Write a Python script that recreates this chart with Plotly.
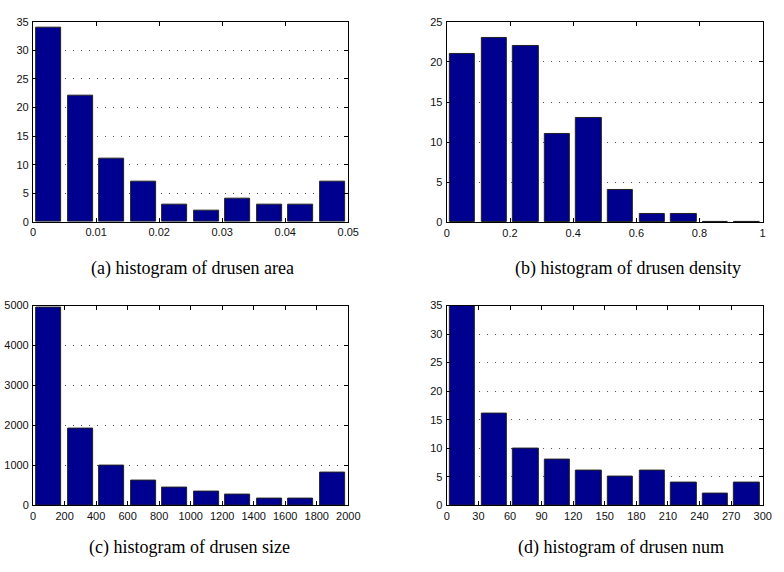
import plotly.graph_objects as go

# ---- data ----
area_centers = [0.0025, 0.0075, 0.0125, 0.0175, 0.0225, 0.0275, 0.0325, 0.0375, 0.0425, 0.0475]
area_counts = [34, 22, 11, 7, 3, 2, 4, 3, 3, 7]
area_ticks = [0, 0.01, 0.02, 0.03, 0.04, 0.05]
area_ticklabels = ["0", "0.01", "0.02", "0.03", "0.04", "0.05"]

density_centers = [0.05, 0.15, 0.25, 0.35, 0.45, 0.55, 0.65, 0.75, 0.85, 0.95]
density_counts = [21, 23, 22, 11, 13, 4, 1, 1, 0, 0]
density_ticks = [0, 0.2, 0.4, 0.6, 0.8, 1]
density_ticklabels = ["0", "0.2", "0.4", "0.6", "0.8", "1"]

size_centers = [100, 300, 500, 700, 900, 1100, 1300, 1500, 1700, 1900]
size_counts = [4940, 1910, 1000, 625, 455, 340, 260, 178, 170, 825]
size_ticks = [0, 200, 400, 600, 800, 1000, 1200, 1400, 1600, 1800, 2000]

num_centers = [15, 45, 75, 105, 135, 165, 195, 225, 255, 285]
num_counts = [35, 16, 10, 8, 6, 5, 6, 4, 2, 4]
num_ticks = [0, 30, 60, 90, 120, 150, 180, 210, 240, 270, 300]

captions = ["(a) histogram of drusen area", "(b) histogram of drusen density",
            "(c) histogram of drusen size", "(d) histogram of drusen num"]

W, H = 784, 572
BAR = "#00008F"

panels = [
    dict(c=area_centers, v=area_counts, bw=0.005, xr=[0, 0.05], yr=[0, 35], yd=5,
         xt=area_ticks, xtl=area_ticklabels, box=(30.7, 352, 16, 220.5), cap=(193, 268)),
    dict(c=density_centers, v=density_counts, bw=0.1, xr=[0, 1], yr=[0, 25], yd=5,
         xt=density_ticks, xtl=density_ticklabels, box=(452.5, 774.5, 16.3, 220.8), cap=(637, 268)),
    dict(c=size_centers, v=size_counts, bw=200, xr=[0, 2000], yr=[0, 5000], yd=1000,
         xt=size_ticks, xtl=[str(t) for t in size_ticks], box=(30.7, 352, 306, 510), cap=(190, 553)),
    dict(c=num_centers, v=num_counts, bw=30, xr=[0, 300], yr=[0, 35], yd=5,
         xt=num_ticks, xtl=[str(t) for t in num_ticks], box=(452.5, 774.5, 306, 510), cap=(630, 553)),
]

fig = go.Figure()
tickfont = dict(family="Liberation Sans, Arial, sans-serif", size=11, color="#111")
layout = dict(width=W, height=H, margin=dict(l=0, r=0, t=0, b=0),
              paper_bgcolor="white", plot_bgcolor="white", showlegend=False,
              bargap=0, annotations=[])

for i, p in enumerate(panels):
    n = "" if i == 0 else str(i + 1)
    x0, x1, y0, y1 = p["box"]
    fig.add_trace(go.Bar(x=p["c"], y=p["v"], width=[p["bw"] * 0.8] * len(p["c"]),
                         marker=dict(color=BAR, line=dict(color="#222", width=1)),
                         xaxis="x" + n, yaxis="y" + n, hoverinfo="skip"))
    layout["xaxis" + n] = dict(domain=[x0 / W, x1 / W], range=p["xr"], anchor="y" + n,
                               tickmode="array", tickvals=p["xt"], ticktext=p["xtl"],
                               ticks="inside", ticklen=4, tickcolor="#000",
                               showline=True, linecolor="#000", linewidth=1.3, mirror="ticks",
                               showgrid=False, zeroline=False, tickfont=tickfont,
                               ticklabelstandoff=0)
    layout["yaxis" + n] = dict(domain=[1 - y1 / H, 1 - y0 / H], range=p["yr"], anchor="x" + n,
                               dtick=p["yd"], tick0=0,
                               ticks="inside", ticklen=4, tickcolor="#000",
                               showline=True, linecolor="#000", linewidth=1.3, mirror="ticks",
                               showgrid=True, gridcolor="#555", griddash="1px,7px", gridwidth=1,
                               zeroline=False, tickfont=tickfont, ticklabelstandoff=1)
    layout["annotations"].append(dict(
        text=captions[i], xref="paper", yref="paper", showarrow=False,
        x=p["cap"][0] / W, y=1 - p["cap"][1] / H,
        xanchor="center", yanchor="middle",
        font=dict(family="Liberation Serif, Times New Roman, serif", size=18, color="#000")))

fig.update_layout(**layout)
fig.write_html("out.html", config={"displayModeBar": False},
               post_script="document.body.style.margin='0';document.body.style.padding='0';")
